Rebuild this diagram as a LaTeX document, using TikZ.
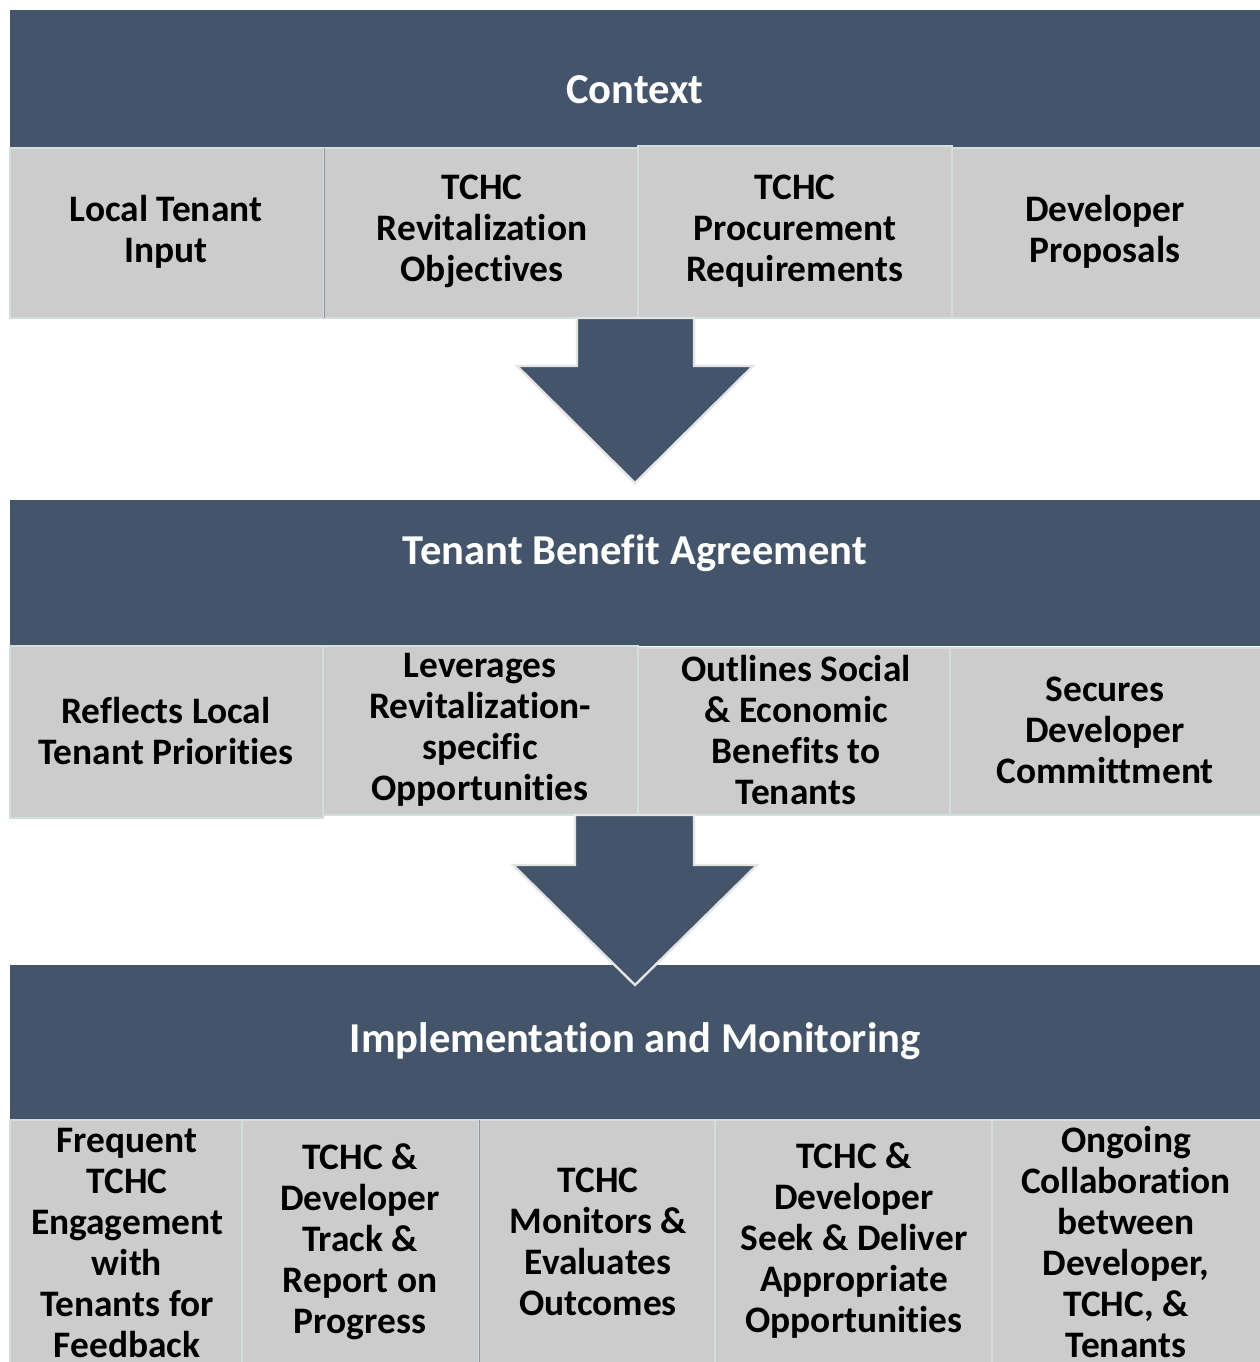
\documentclass[tikz,border=0pt]{standalone}
\usepackage{fontspec}
\setmainfont{Carlito}[Ligatures={NoCommon,NoContextual,NoRequired},Contextuals=NoAlternate]
\definecolor{hdr}{HTML}{44546A}
\definecolor{cellgray}{HTML}{CCCCCC}
\definecolor{celledge}{HTML}{D5DEDF}
\definecolor{darkedge}{HTML}{8A96A8}
\definecolor{arrowedge}{HTML}{E4E4E4}
\begin{document}
\begin{tikzpicture}[x=0.5pt,y=-0.5pt,
  hdrbox/.style={fill=hdr},
  cellbox/.style={fill=cellgray,draw=celledge,line width=0.6pt},
  blockarrow/.style={fill=hdr,draw=arrowedge,line width=1.2pt,line join=miter},
  celltext/.style={font=\bfseries\fontsize{18.7}{20.5}\selectfont,align=center,text=black,inner sep=0pt},
  hdrtext/.style={font=\bfseries\fontsize{21.3}{25}\selectfont,text=white,inner sep=0pt}]
\useasboundingbox (0,0) rectangle (1260,1362);
\fill[white] (0,0) rectangle (1260,1362);

% ---------- Context ----------
\fill[hdrbox] (10,10) rectangle (1262,148);
\node[hdrtext] (ctx) at (635,90) {Context};
\filldraw[cellbox] (10,148) rectangle (324,318);
\filldraw[cellbox] (324,148) rectangle (638,318);
\filldraw[cellbox] (638,146) rectangle (952,318);
\filldraw[cellbox] (952,148) rectangle (1262,318);
\draw[darkedge,line width=0.5pt] (324,148) -- (324,318);
\node[celltext] (c1) at (166,232) {Local Tenant\\Input};
\node[celltext] (c2) at (482,231) {TCHC\\Revitalization\\Objectives};
\node[celltext] (c3) at (795,231) {TCHC\\Procurement\\Requirements};
\node[celltext] (c4) at (1105,232) {Developer\\Proposals};

% ---------- arrow 1 ----------
\filldraw[blockarrow] (577,318) -- (577,366) -- (517,366) -- (635,483) -- (753,366) -- (694,366) -- (694,318) -- cycle;

% ---------- Tenant Benefit Agreement ----------
\fill[hdrbox] (10,500) rectangle (1262,646);
\node[hdrtext] (tba) at (635,553) {Tenant Benefit Agreement};
\filldraw[cellbox] (10,646) rectangle (323,818);
\filldraw[cellbox] (323,646) rectangle (638,815);
\filldraw[cellbox] (638,648) rectangle (950,815);
\filldraw[cellbox] (950,648) rectangle (1262,815);
\node[celltext] (t1) at (166,731) {Reflects Local\\Tenant Priorities};
\node[celltext] (t2) at (480,730) {Leverages\\Revitalization-\\specific\\Opportunities};
\node[celltext] (t3) at (796,730) {Outlines Social\\\& Economic\\Benefits to\\Tenants};
\node[celltext] (t4) at (1105,730) {Secures\\Developer\\Committment};

% ---------- Implementation and Monitoring ----------
\fill[hdrbox] (10,965) rectangle (1262,1120);
\node[hdrtext] (im) at (635,1041) {Implementation and Monitoring};
\filldraw[cellbox] (10,1120) rectangle (242,1380);
\filldraw[cellbox] (242,1120) rectangle (479,1380);
\filldraw[cellbox] (479,1120) rectangle (715,1380);
\filldraw[cellbox] (715,1120) rectangle (992,1380);
\filldraw[cellbox] (992,1120) rectangle (1262,1380);
\draw[darkedge,line width=0.5pt] (479,1120) -- (479,1380);
\node[celltext] (m1) at (127,1243) {Frequent\\TCHC\\Engagement\\with\\Tenants for\\Feedback};
\node[celltext] (m2) at (360,1242) {TCHC \&\\Developer\\Track \&\\Report on\\Progress};
\node[celltext] (m3) at (598,1242) {TCHC\\Monitors \&\\Evaluates\\Outcomes};
\node[celltext] (m4) at (854,1241) {TCHC \&\\Developer\\Seek \& Deliver\\Appropriate\\Opportunities};
\node[celltext] (m5) at (1126,1242) {Ongoing\\Collaboration\\between\\Developer,\\TCHC, \&\\Tenants};

% ---------- arrow 2 ----------
\filldraw[blockarrow] (575,815) -- (575,865) -- (513,865) -- (635,985) -- (757,865) -- (694,865) -- (694,815) -- cycle;
\end{tikzpicture}
\end{document}
